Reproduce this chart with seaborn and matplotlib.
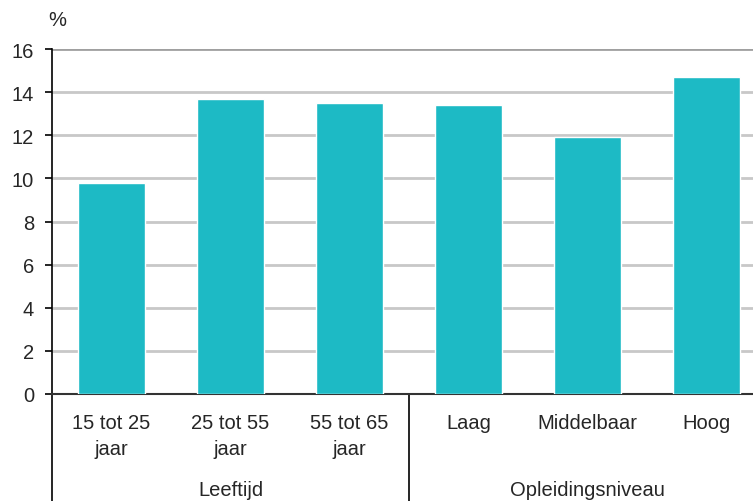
import numpy as np
import pandas as pd
import seaborn as sns
from matplotlib import pyplot as plt

# data
categories = ["15 tot 25\njaar", "25 tot 55\njaar", "55 tot 65\njaar",
              "Laag", "Middelbaar", "Hoog"]
values = [9.8, 13.7, 13.5, 13.4, 11.9, 14.7]
groups = ["Leeftijd", "Opleidingsniveau"]
group_sizes = [3, 3]
yticks = [0, 2, 4, 6, 8, 10, 12, 14, 16]

sns.set_style("white")
plt.rcParams['font.family'] = ['Liberation Sans', 'DejaVu Sans']
fs = 14.5

df = pd.DataFrame({"cat": categories, "pct": values})

fig = plt.figure(figsize=(7.53, 5.02), dpi=100)
ax = fig.add_axes([52/753, 107/502, 714/753, 345/502])

sns.barplot(data=df, x="cat", y="pct", color="#1DBAC5", saturation=1,
            width=0.56, ax=ax, zorder=3)

ax.set_xlim(-0.5, 5.5)
ax.set_ylim(0, 16)
ax.set_yticks(yticks)
ax.set_xlabel("")
ax.set_ylabel("")

# grid
for t in yticks[1:]:
    c = "#A0A0A0" if t == 16 else "#C8C8C8"
    ax.axhline(t, color=c, lw=2, zorder=1)

for s in ["top", "right"]:
    ax.spines[s].set_visible(False)
ax.spines["left"].set_color("black")
ax.spines["bottom"].set_color("#333333")
ax.spines["left"].set_linewidth(1.2)
ax.spines["bottom"].set_linewidth(1.5)

ax.tick_params(axis="y", length=5, width=1.2, color="black", labelsize=fs, pad=8, left=True)
ax.tick_params(axis="x", length=0, labelsize=fs, pad=14)
for lab in ax.get_xticklabels():
    lab.set_linespacing(1.45)

# group separators and labels
ppu = 345 / 16
depth = 110 / ppu
ax.plot([-0.5, -0.5], [0, -depth], color="black", lw=1.2, clip_on=False)
start = 0
for g, n in zip(groups, group_sizes):
    mid = start + n / 2 - 0.5
    ax.text(mid, -96 / ppu, g, ha="center", va="center", fontsize=fs)
    start += n
    if start < len(categories):
        ax.plot([start - 0.5, start - 0.5], [0, -depth], color="black", lw=1.2, clip_on=False)

fig.text(57/753, 1 - 20/502, "%", ha="center", va="center", fontsize=fs)

plt.savefig("out.png", dpi=100)
